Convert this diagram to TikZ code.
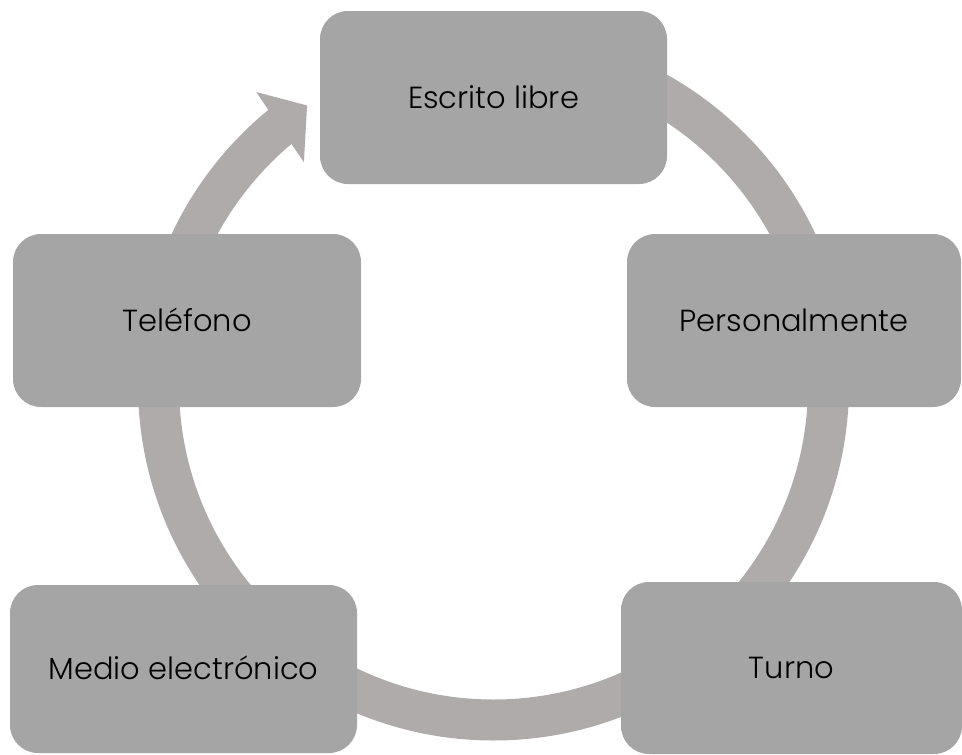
\documentclass[tikz,border=0pt]{standalone}
\usepackage{fontspec}
\IfFontExistsTF{Poppins Light}{\setmainfont{Poppins Light}}{\setmainfont{Poppins}}
\usepackage{tikz}
\usetikzlibrary{calc}
\definecolor{boxgray}{HTML}{A5A5A5}
\definecolor{ringgray}{HTML}{AFABAB}

\begin{document}
\begin{tikzpicture}[x=1pt, y=-1pt,
    box/.style={rectangle, rounded corners=28pt, fill=boxgray, inner sep=0pt,
        text height=21pt, text depth=0pt, font=\fontsize{30.5}{36}\selectfont},
    ring/.style={draw=ringgray, line width=41pt, line cap=butt}]
    \useasboundingbox (0,0) rectangle (962,755);

    \coordinate (ctr) at (493.5,385);

    % ring and its head
    \draw[ring] ([shift={(-90:335)}]ctr) arc[start angle=-90, end angle=231, radius=335];
    \fill[ringgray] ([shift={(231:377)}]ctr) -- ([shift={(236.3:336)}]ctr)
        -- ([shift={(229.6:292.6)}]ctr) -- cycle;

    \node[box, minimum width=347pt, minimum height=173pt] (escrito) at (493.5,97.5) {Escrito libre};
    \node[box, minimum width=334pt, minimum height=173pt] (personal) at (794,320.5) {Personalmente};
    \node[box, minimum width=341pt, minimum height=172pt] (turno) at (791.5,668) {Turno};
    \node[box, minimum width=347pt, minimum height=168pt] (medio) at (183.5,669) {Medio electrónico};
    \node[box, minimum width=348pt, minimum height=173pt] (telefono) at (187,320.5) {Teléfono};
\end{tikzpicture}
\end{document}
